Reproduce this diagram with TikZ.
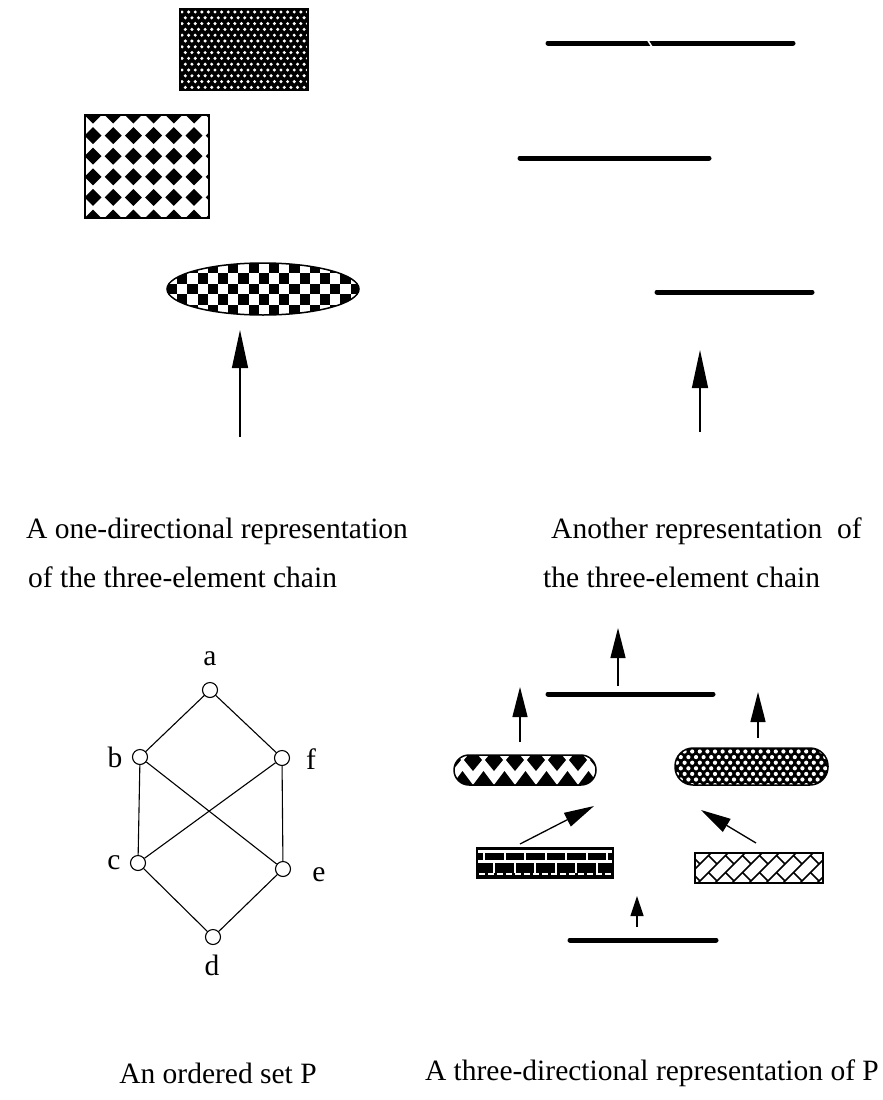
\documentclass[tikz,border=0pt]{standalone}
\usepackage{fontspec}
\setmainfont{Liberation Serif}
\usetikzlibrary{arrows.meta}
\tikzset{
  txt/.style={font=\fontsize{29.5}{34}\selectfont, inner sep=0pt},
  bar/.style={line width=5pt, line cap=round},
  upar/.style={line width=1.3pt, -{Triangle[length=38pt,width=16pt]}},
  smar/.style={line width=1.3pt, -{Triangle[length=30pt,width=15pt]}},
  tiar/.style={line width=1.3pt, -{Triangle[length=20pt,width=13pt]}},
  vtx/.style={circle, draw, line width=1.1pt, minimum size=15pt, inner sep=0pt, fill=white},
  edg/.style={line width=1.1pt},
  outl/.style={line width=1.5pt},
}
\begin{document}
\begin{tikzpicture}[x=1pt,y=-1pt]
\useasboundingbox[fill=white] (0,0) rectangle (883,1100);

% ---------- top left: dotted rectangle
\begin{scope}
\clip (180,9) rectangle (308,90);
\fill (180,9) rectangle (308,90);
\foreach \j in {0,...,14}{
  \pgfmathsetmacro\off{mod(\j,2)*3.3}
  \foreach \i in {0,...,20}{
    \fill[white] ({182+\off+\i*6.6},{12+\j*5.8}) circle[radius=1.7pt];
  }
}
\end{scope}
\draw[outl] (180,9) rectangle (308,90);

% ---------- diamond rectangle
\begin{scope}
\clip (85,115) rectangle (209,218);
\foreach \j in {0,...,5}{
  \foreach \i in {-1,...,6}{
    \pgfmathsetmacro\cx{93+\i*20.2}
    \pgfmathsetmacro\cy{115+\j*20.6}
    \fill (\cx-8.5,\cy) -- (\cx,\cy-8.5) -- (\cx+8.5,\cy) -- (\cx,\cy+8.5) -- cycle;
  }
}
\end{scope}
\draw[outl] (85,115) rectangle (209,218);

% ---------- checker ellipse
\begin{scope}
\clip (263,289) ellipse [x radius=96pt, y radius=26pt];
\foreach \i in {0,...,19}{
  \foreach \j in {0,...,5}{
    \pgfmathparse{int(mod(\i+\j,2))}
    \ifnum\pgfmathresult=0
      \fill ({167+\i*10.2},{263+\j*10.4}) rectangle ++(10.2,10.4);
    \fi
  }
}
\end{scope}
\draw[outl] (263,289) ellipse [x radius=96pt, y radius=26pt];

\coordinate (tlA) at (240,437);
\coordinate (tlB) at (240,330);
\draw[upar] (tlA) -- (tlB);

% ---------- top right: bars
\draw[bar] (548,43) -- (793,43);
\draw[white, line width=1.6pt] (647,39) -- (652,47);
\draw[bar] (520,158) -- (709,158);
\draw[bar] (657,292) -- (812,292);
\coordinate (trA) at (700,432);
\coordinate (trB) at (700,350);
\draw[upar] (trA) -- (trB);

% ---------- captions
\node[txt, anchor=west] (t1) at (26,531) {A one-directional representation};
\node[txt, anchor=west] (t2) at (28,577) {of the three-element chain};
\node[txt, anchor=west] (t3) at (551,531) {Another representation\ \ of};
\node[txt, anchor=west] (t4) at (543,577) {the three-element chain};
\node[txt] (t5) at (218,1073) {An ordered set P};
\node[txt, anchor=east] (t6) at (879,1073) {A three-directional representation of P};

% ---------- ordered set P
\node[vtx] (a) at (210,690) {};
\node[vtx] (b) at (140,757) {};
\node[vtx] (f) at (282,758) {};
\node[vtx] (c) at (138,863) {};
\node[vtx] (e) at (283,869) {};
\node[vtx] (d) at (213,937) {};
\draw[edg] (a) -- (b);
\draw[edg] (a) -- (f);
\draw[edg] (b) -- (c);
\draw[edg] (b) -- (e);
\draw[edg] (f) -- (c);
\draw[edg] (f) -- (e);
\draw[edg] (c) -- (d);
\draw[edg] (e) -- (d);
\node[txt] (la) at (210,659) {a};
\node[txt] (lb) at (115,757) {b};
\node[txt] (lf) at (311,759) {f};
\node[txt] (lc) at (114,863) {c};
\node[txt] (le) at (319,875) {e};
\node[txt] (ld) at (212,965) {d};

% ---------- three-directional representation
\draw[bar] (548,694) -- (713,694);
\coordinate (u1) at (618,686);
\coordinate (u2) at (618,628);
\draw[smar] (u1) -- (u2);

% left pill with diamonds
\begin{scope}
\clip[rounded corners=15pt] (454,755) rectangle (596,785);
\foreach \i in {-1,...,7}{
  \pgfmathsetmacro\tx{473+21*\i}
  \pgfmathsetmacro\bx{462.5+21*\i}
  \fill (\tx-9,760) -- (\tx,749) -- (\tx+9,760) -- (\tx,771) -- cycle;
  \fill (\tx-1.5,754) rectangle (\tx+1.5,758);
  \fill (\bx-10.5,785) -- (\bx,771) -- (\bx+10.5,785) -- (\bx,799) -- cycle;
}
\end{scope}
\draw[outl, rounded corners=15pt] (454,755) rectangle (596,785);
\coordinate (l1) at (520,742);
\coordinate (l2) at (520,687);
\draw[smar] (l1) -- (l2);

% right pill with dots
\begin{scope}
\clip[rounded corners=18pt] (675,748) rectangle (828,785);
\fill (675,748) rectangle (828,785);
\foreach \j in {0,...,6}{
  \pgfmathsetmacro\off{mod(\j,2)*3.8}
  \foreach \i in {0,...,20}{
    \fill[white] ({677+\off+\i*7.6},{751.5+\j*5.6}) circle[radius=2.1pt];
  }
}
\end{scope}
\draw[outl, rounded corners=18pt] (675,748) rectangle (828,785);
\coordinate (r1) at (758,738);
\coordinate (r2) at (758,692);
\draw[smar] (r1) -- (r2);

% bricks
\begin{scope}
\clip (477,848) rectangle (613,878);
\fill (477,848) rectangle (613,878);
\draw[white, line width=3pt] (470,851.5) -- (620,851.5);
\draw[white, line width=2.2pt] (470,861.5) -- (620,861.5);
\draw[white, line width=2pt, dash pattern=on 6pt off 3pt] (470,873.5) -- (620,873.5);
\foreach \x in {484,504.5,...,610} \draw[white, line width=2pt] (\x,851) -- (\x,861.5);
\foreach \x in {494,514.5,...,610} \draw[white, line width=2pt] (\x,861.5) -- (\x,873);
\end{scope}
\draw[outl] (477,848) rectangle (613,878);
\coordinate (dl1) at (520,844);
\coordinate (dl2) at (594,806);
\draw[smar] (dl1) -- (dl2);

% hatched
\begin{scope}
\clip (695,853) rectangle (823,883);
\foreach \k in {0,...,12}{
  \pgfmathsetmacro\cc{1530+\k*17}
  \draw[line width=1.6pt] ({\cc-900},900) -- ({\cc-830},830);
  \foreach \m in {0,...,8}{
    \pgfmathsetmacro\dd{-215+\m*34+mod(\k,2)*17}
    \draw[line width=1.6pt] ({(\cc+\dd)/2},{(\cc-\dd)/2}) -- ++(8.5,8.5);
  }
}
\end{scope}
\draw[outl] (695,853) rectangle (823,883);
\coordinate (dr1) at (756,843);
\coordinate (dr2) at (701,810);
\draw[smar] (dr1) -- (dr2);

\coordinate (b1) at (637,927);
\coordinate (b2) at (637,896);
\draw[tiar] (b1) -- (b2);
\draw[bar] (570,940) -- (716,940);
\end{tikzpicture}
\end{document}
